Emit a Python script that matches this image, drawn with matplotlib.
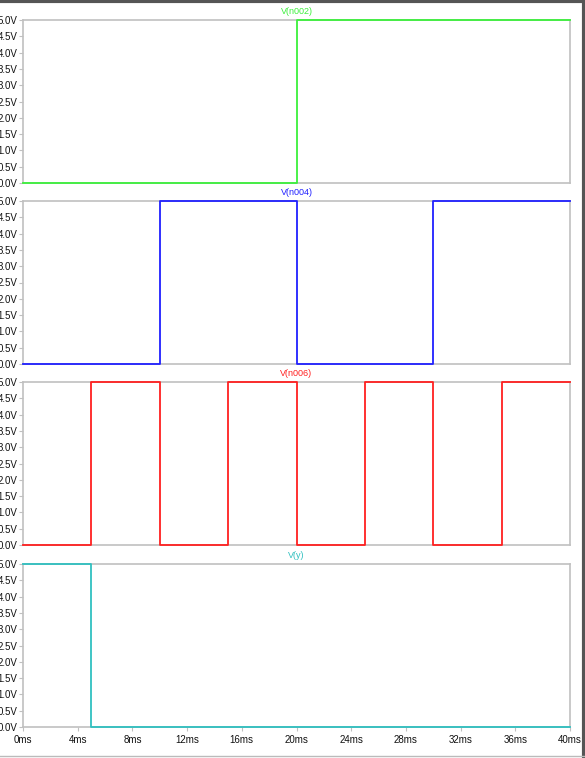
import matplotlib
matplotlib.use("Agg")
import matplotlib.pyplot as plt
from matplotlib.lines import Line2D

plt.rcParams['font.family'] = ['Liberation Sans', 'DejaVu Sans']

# Waveform breakpoints (ms) and levels (V), stepped 'post'
t_n002 = [0, 20, 40]
v_n002 = [0, 5, 5]
t_n004 = [0, 10, 20, 30, 40]
v_n004 = [0, 5, 0, 5, 5]
t_n006 = [0, 5, 10, 15, 20, 25, 30, 35, 40]
v_n006 = [0, 5, 0, 5, 0, 5, 0, 5, 5]
t_y = [0, 5, 40]
v_y = [5, 0, 0]

titles = ["V(n002)", "V(n004)", "V(n006)", "V(y)"]
colors = ["#3cf03c", "#2020ff", "#ff2020", "#30c0c0"]
series = [(t_n002, v_n002), (t_n004, v_n004), (t_n006, v_n006), (t_y, v_y)]

yticks = [0, 0.5, 1, 1.5, 2, 2.5, 3, 3.5, 4, 4.5, 5]
ytick_labels = ["%.1fV" % v for v in yticks]
xticks = list(range(0, 41, 4))
xtick_labels = ["%dms" % v for v in xticks]

W, H = 585, 758
fig = plt.figure(figsize=(W / 100, H / 100), dpi=100)

left, right = 23, 570
tops = [20, 201, 382, 564]
ph = 163
frame = "#c0c0c0"

for i, (top, (t, v)) in enumerate(zip(tops, series)):
    ax = fig.add_axes([left / W, 1 - (top + ph) / H, (right - left) / W, ph / H])
    ax.step(t, v, where="post", color=colors[i], lw=1.3, clip_on=False, zorder=3)
    ax.set_xlim(0, 40)
    ax.set_ylim(0, 5)
    ax.set_yticks(yticks)
    ax.set_yticklabels(ytick_labels)
    ax.set_xticks(xticks)
    for s in ax.spines.values():
        s.set_color(frame)
        s.set_linewidth(1.2)
    ax.tick_params(axis="both", colors=frame, labelcolor="#111111",
                   labelsize=7, length=3, width=0.8, pad=1)
    ax.tick_params(axis="x", pad=2.5)
    if i == 3:
        ax.set_xticklabels(xtick_labels)
    else:
        ax.set_xticklabels([])
        ax.tick_params(axis="x", length=0)
    ax.set_title(titles[i], color=colors[i], fontsize=6.5, pad=4.5)

# window border
fig.add_artist(Line2D([0, 1], [1 - 1 / H, 1 - 1 / H], color="#555555", lw=3, transform=fig.transFigure))
fig.add_artist(Line2D([1 - 1.5 / W, 1 - 1.5 / W], [0, 1], color="#555555", lw=3, transform=fig.transFigure))
fig.add_artist(Line2D([0, 1], [2 / H, 2 / H], color="#bbbbbb", lw=1, transform=fig.transFigure))

fig.savefig("out.png", dpi=100)
